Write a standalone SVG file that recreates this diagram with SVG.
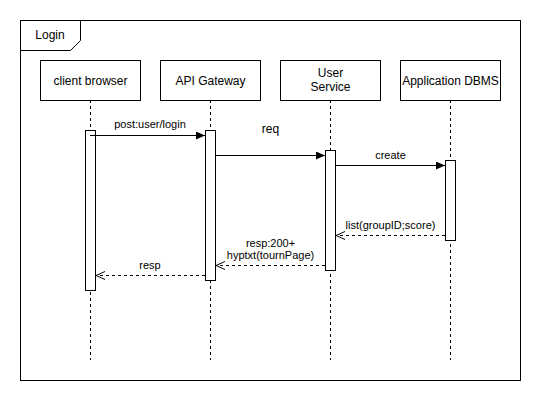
<svg xmlns="http://www.w3.org/2000/svg" width="541" height="401" viewBox="0 0 541 401">
<defs>
<style>
text{font-family:"Liberation Sans",Arial,sans-serif;fill:#000}
.t12{font-size:12px;text-anchor:middle}
.t11{font-size:11px;text-anchor:middle}
.box{fill:#fff;stroke:#000;stroke-width:1}
.life{stroke:#000;stroke-width:1;stroke-dasharray:3 3;fill:none}
.msg{stroke:#000;stroke-width:1;fill:none}
.ret{stroke:#000;stroke-width:1;fill:none;stroke-dasharray:3 3}
</style>
<marker id="filled" markerWidth="10" markerHeight="8" refX="9" refY="4" orient="auto" markerUnits="userSpaceOnUse">
<path d="M0,0 L9,4 L0,8 Z" fill="#000"/>
</marker>
<marker id="open" markerWidth="10" markerHeight="10" refX="9" refY="5" orient="auto" markerUnits="userSpaceOnUse">
<path d="M0,1 L9,5 L0,9" fill="none" stroke="#000" stroke-width="1"/>
</marker>
</defs>
<rect width="541" height="401" fill="#fff"/>
<g id="frame">
<rect x="20.5" y="20.5" width="500" height="360" fill="none" stroke="#000"/>
<path d="M20.5,20.5 L80.5,20.5 L80.5,40.5 L70.5,50.5 L20.5,50.5 Z" fill="#fff" stroke="#000"/>
<text class="t12" x="50" y="39">Login</text>
</g>
<g id="client-browser">
<line class="life" x1="90.5" y1="100" x2="90.5" y2="360"/>
<rect class="box" x="40.5" y="60.5" width="100" height="40"/>
<text class="t12" x="90.5" y="85">client browser</text>
<rect class="box" x="85.5" y="130.5" width="10" height="160"/>
</g>
<g id="api-gateway">
<line class="life" x1="210.5" y1="100" x2="210.5" y2="360"/>
<rect class="box" x="160.5" y="60.5" width="100" height="40"/>
<text class="t12" x="210.5" y="85">API Gateway</text>
<rect class="box" x="205.5" y="130.5" width="10" height="150"/>
</g>
<g id="user-service">
<line class="life" x1="330.5" y1="100" x2="330.5" y2="360"/>
<rect class="box" x="280.5" y="60.5" width="100" height="40"/>
<text class="t12" x="330.5" y="77">User</text>
<text class="t12" x="330.5" y="91">Service</text>
<rect class="box" x="325.5" y="150.5" width="10" height="120"/>
</g>
<g id="application-dbms">
<line class="life" x1="450.5" y1="100" x2="450.5" y2="360"/>
<rect class="box" x="400.5" y="60.5" width="100" height="40"/>
<text class="t12" x="450.5" y="85">Application DBMS</text>
<rect class="box" x="445.5" y="160.5" width="10" height="80"/>
</g>
<g id="connectors">
<line class="msg" x1="90" y1="135.5" x2="205" y2="135.5" marker-end="url(#filled)"/>
<text class="t11" x="150" y="128">post:user/login</text>
<line class="msg" x1="215.5" y1="155.5" x2="325" y2="155.5" marker-end="url(#filled)"/>
<text class="t12" x="270.5" y="133">req</text>
<line class="msg" x1="335.5" y1="165.5" x2="445" y2="165.5" marker-end="url(#filled)"/>
<text class="t11" x="390.5" y="159">create</text>
<line class="ret" x1="445" y1="235.5" x2="336" y2="235.5" marker-end="url(#open)"/>
<text class="t11" x="390.5" y="229">list(groupID;score)</text>
<line class="ret" x1="325" y1="265.5" x2="216" y2="265.5" marker-end="url(#open)"/>
<text class="t11" x="270.5" y="247">resp:200+</text>
<text class="t11" x="270.5" y="259">hyptxt(tournPage)</text>
<line class="ret" x1="205" y1="275.5" x2="96" y2="275.5" marker-end="url(#open)"/>
<text class="t11" x="150" y="269">resp</text>
</g>
</svg>
